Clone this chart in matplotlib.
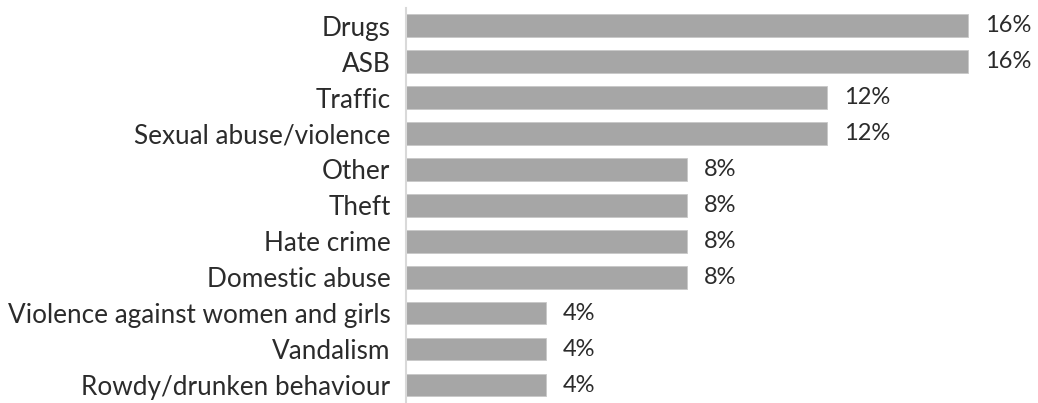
import matplotlib
matplotlib.use('Agg')
import matplotlib.pyplot as plt

# Share of reports by concern type (%)
categories = ['Drugs', 'ASB', 'Traffic', 'Sexual abuse/violence', 'Other', 'Theft',
              'Hate crime', 'Domestic abuse', 'Violence against women and girls',
              'Vandalism', 'Rowdy/drunken behaviour']
values = [16, 16, 12, 12, 8, 8, 8, 8, 4, 4, 4]

plt.rcParams['font.family'] = ['Lato', 'DejaVu Sans']

fig = plt.figure(figsize=(10.38, 4.03), dpi=100)
ax = fig.add_axes([0.391, 0.0, 0.609, 0.981])

y = list(range(len(categories)))
ax.barh(y, values, height=0.63, color='#a6a6a6', edgecolor='#c8c8c8', linewidth=0.6)

for yi, v in zip(y, values):
    ax.text(v + 0.48, yi, f'{v}%', va='center', ha='left', fontsize=17, color='#2b2b2b')

ax.set_yticks(y)
ax.set_yticklabels(categories, fontsize=18.8, color='#2b2b2b')
ax.tick_params(axis='y', length=0, pad=11)
ax.set_xticks([])
ax.set_xlim(0, 18)
ax.set_ylim(len(categories) - 0.5, -0.5)

for side in ['top', 'right', 'bottom']:
    ax.spines[side].set_visible(False)
ax.spines['left'].set_color('#d9d9d9')
ax.spines['left'].set_linewidth(1.5)

fig.savefig('out.png', dpi=100)
